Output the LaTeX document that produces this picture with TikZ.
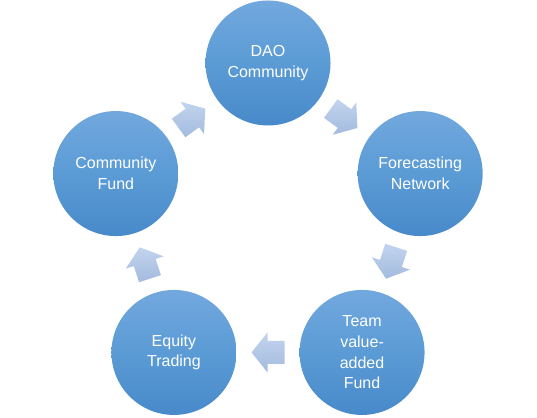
\documentclass[tikz,border=0pt]{standalone}
\usepackage{fontspec}
\setmainfont{Liberation Sans}
\usepackage{xcolor}
\usetikzlibrary{calc,positioning}
\definecolor{CircleTop}{RGB}{114,168,222}
\definecolor{CircleMid}{RGB}{91,155,213}
\definecolor{CircleBottom}{RGB}{72,137,202}
\definecolor{ArrowTop}{RGB}{194,212,238}
\definecolor{ArrowBottom}{RGB}{163,187,222}
\tikzset{cycle arrow/.pic={
  \path[arrow body] (-16.5,-11.5) -- (0.5,-11.5) -- (0.5,-20) -- (16.5,0)
        -- (0.5,20) -- (0.5,11.5) -- (-16.5,11.5) -- cycle;}}

\begin{document}
\begin{tikzpicture}[x=1pt,y=1pt,
                    main node/.style={circle,minimum size=125pt,inner sep=0pt,top color=CircleTop,bottom color=CircleBottom,middle color=CircleMid,text=white,align=center,font=\fontsize{16}{20.7}\selectfont},
                    arrow body/.style={top color=ArrowTop,bottom color=ArrowBottom}]
\useasboundingbox (0,0) rectangle (537,417);
\coordinate (Center) at (268,194);

\foreach \k/\name/\txt in {0/DAO/{DAO\\Community},1/Forecast/{Forecasting\\Network},2/TeamFund/{Team\\value-\\added\\Fund},3/Equity/{Equity\\Trading},4/CommFund/{Community\\Fund}}
   \node[main node] (\name) at ($(Center)+({90-72*\k}:160)$) {\txt};

% arrows half way between neighbours
\foreach \a/\b/\k in {DAO/Forecast/0,Forecast/TeamFund/1,TeamFund/Equity/2,Equity/CommFund/3,CommFund/DAO/4}
   \pic[rotate={-36-72*\k}] at ($(\a)!0.5!(\b)$) {cycle arrow};
\end{tikzpicture}
\end{document}
